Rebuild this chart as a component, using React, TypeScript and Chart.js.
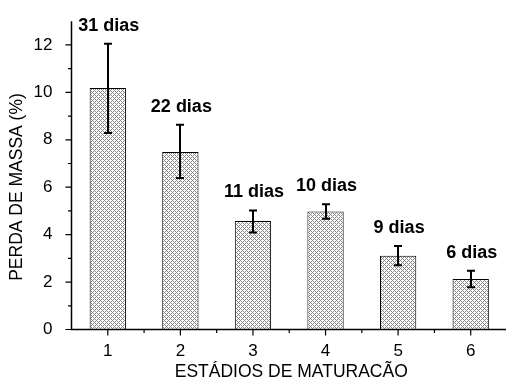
import React, { useEffect, useRef } from "react";
import { Chart, registerables } from "chart.js";

Chart.register(...registerables);

const stages = [1, 2, 3, 4, 5, 6];
const massLoss = [10.18, 7.48, 4.57, 4.98, 3.11, 2.13];
const errUpper = [12.05, 8.63, 5.02, 5.28, 3.52, 2.48];
const errLower = [8.29, 6.39, 4.09, 4.67, 2.71, 1.78];
const dayLabels = ["31 dias", "22 dias", "11 dias", "10 dias", "9 dias", "6 dias"];
const yTicks = [0, 2, 4, 6, 8, 10, 12];
const yMinorTicks = [1, 3, 5, 7, 9, 11];
const xMinorTicks = [1.5, 2.5, 3.5, 4.5, 5.5, 6.5];

const FONT = "'Liberation Sans', Arial, Helvetica, sans-serif";

function makePattern(): CanvasPattern | string {
  const c = document.createElement("canvas");
  c.width = 4;
  c.height = 4;
  const ctx = c.getContext("2d");
  if (!ctx) return "#bbb";
  ctx.fillStyle = "#ffffff";
  ctx.fillRect(0, 0, 4, 4);
  ctx.fillStyle = "#888888";
  for (let x = 0; x < 4; x++) {
    for (let y = 0; y < 4; y++) {
      if ((x + y) % 4 === 0 || (x - y + 4) % 4 === 0) ctx.fillRect(x, y, 1, 1);
    }
  }
  return ctx.createPattern(c, "repeat") || "#bbb";
}

const decorPlugin = {
  id: "decor",
  afterDatasetsDraw(chart: any) {
    const { ctx, chartArea, scales } = chart;
    const xs = scales.x;
    const ys = scales.y;
    ctx.save();
    // error bars
    ctx.strokeStyle = "#000";
    ctx.lineWidth = 2;
    stages.forEach((s, i) => {
      const px = Math.round(xs.getPixelForValue(s));
      const top = ys.getPixelForValue(errUpper[i]);
      const bot = ys.getPixelForValue(errLower[i]);
      ctx.beginPath();
      ctx.moveTo(px, top);
      ctx.lineTo(px, bot);
      ctx.moveTo(px - 4, top);
      ctx.lineTo(px + 4, top);
      ctx.moveTo(px - 4, bot);
      ctx.lineTo(px + 4, bot);
      ctx.stroke();
    });
    // day labels
    ctx.fillStyle = "#000";
    ctx.font = `bold 18px ${FONT}`;
    ctx.textAlign = "center";
    ctx.textBaseline = "middle";
    stages.forEach((s, i) => {
      const px = xs.getPixelForValue(s);
      const top = ys.getPixelForValue(errUpper[i]);
      ctx.fillText(dayLabels[i], px + 1, Math.max(top - 18, 22));
    });
    // axes
    ctx.lineWidth = 1.5;
    ctx.beginPath();
    ctx.moveTo(chartArea.left, chartArea.top);
    ctx.lineTo(chartArea.left, chartArea.bottom);
    ctx.lineTo(chartArea.right, chartArea.bottom);
    ctx.stroke();
    ctx.lineWidth = 1.2;
    ctx.beginPath();
    yTicks.forEach((v) => {
      const py = ys.getPixelForValue(v);
      ctx.moveTo(chartArea.left, py);
      ctx.lineTo(chartArea.left - 6, py);
    });
    yMinorTicks.forEach((v) => {
      const py = ys.getPixelForValue(v);
      ctx.moveTo(chartArea.left, py);
      ctx.lineTo(chartArea.left - 3.5, py);
    });
    stages.forEach((v) => {
      const px = xs.getPixelForValue(v);
      ctx.moveTo(px, chartArea.bottom);
      ctx.lineTo(px, chartArea.bottom + 6);
    });
    xMinorTicks.forEach((v) => {
      const px = xs.getPixelForValue(v);
      ctx.moveTo(px, chartArea.bottom);
      ctx.lineTo(px, chartArea.bottom + 3.5);
    });
    ctx.stroke();
    // axis titles
    ctx.font = `17.5px ${FONT}`;
    ctx.fillStyle = "#000";
    ctx.textAlign = "center";
    ctx.textBaseline = "middle";
    ctx.fillText("ESTÁDIOS DE MATURACÃO", (chartArea.left + chartArea.right) / 2 + 2, 372);
    ctx.translate(17, 187);
    ctx.rotate(-Math.PI / 2);
    ctx.fillText("PERDA DE MASSA (%)", 0, 0);
    ctx.restore();
  },
};

export default function App() {
  const ref = useRef<HTMLCanvasElement>(null);
  useEffect(() => {
    if (!ref.current) return;
    const pattern = makePattern();
    const chart = new Chart(ref.current, {
      type: "bar",
      data: {
        datasets: [
          {
            data: stages.map((s, i) => ({ x: s, y: massLoss[i] })),
            backgroundColor: pattern as any,
            borderColor: "#000",
            borderWidth: 1,
            borderSkipped: "bottom",
            categoryPercentage: 1,
            barPercentage: 0.5,
          },
        ],
      },
      options: {
        responsive: false,
        animation: false,
        events: [],
        layout: { padding: { top: 13, right: 3, left: 0, bottom: 0 } },
        plugins: { legend: { display: false }, tooltip: { enabled: false } },
        scales: {
          x: {
            type: "linear",
            min: 0.5,
            max: 6.5,
            offset: false,
            grid: { display: false, offset: false },
            border: { display: false },
            afterBuildTicks: (scale: any) => {
              scale.ticks = stages.map((v) => ({ value: v }));
            },
            afterFit: (scale: any) => {
              scale.height = 57.5;
            },
            ticks: {
              color: "#000",
              font: { family: FONT, size: 17 },
              padding: 4,
              maxRotation: 0,
              autoSkip: false,
            },
          },
          y: {
            min: 0,
            max: 13,
            grid: { display: false },
            border: { display: false },
            afterBuildTicks: (scale: any) => {
              scale.ticks = yTicks.map((v) => ({ value: v }));
            },
            afterFit: (scale: any) => {
              scale.width = 71.5;
            },
            ticks: {
              color: "#000",
              font: { family: FONT, size: 17 },
              padding: 11,
              autoSkip: false,
            },
          },
        },
      },
      plugins: [decorPlugin],
    });
    return () => chart.destroy();
  }, []);
  return (
    <div style={{ position: "fixed", left: 0, top: 0, width: 506, height: 387, overflow: "hidden", background: "#fff" }}>
      <canvas ref={ref} width={510} height={387} style={{ display: "block" }} />
    </div>
  );
}
